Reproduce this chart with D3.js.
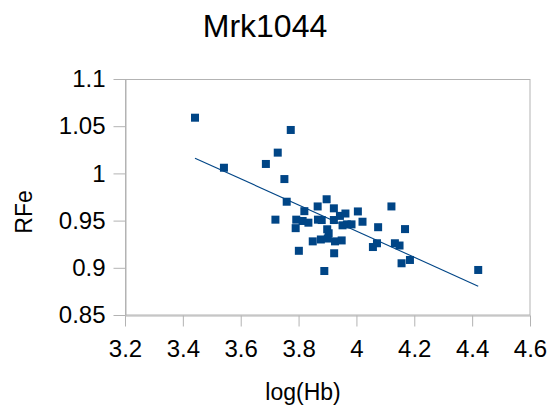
<!DOCTYPE html>
<html><head><meta charset="utf-8">
<script src="https://cdn.jsdelivr.net/npm/d3@7"></script>
<style>body{margin:0;background:#fff}svg{display:block}text{font-family:"Liberation Sans",Arial,sans-serif;fill:#000}</style>
</head><body><svg id="c" width="551" height="409"></svg>
<script>
const title = "Mrk1044";
const xLabel = "log(Hb)";
const yLabel = "RFe";
const xTicks = [3.2,3.4,3.6,3.8,4,4.2,4.4,4.6];
const yTicks = [0.85,0.9,0.95,1,1.05,1.1];
const logHb = [3.442,3.542,3.687,3.728,3.773,3.751,3.759,3.720,3.792,3.790,3.801,3.820,3.814,3.834,3.849,3.866,3.867,3.880,3.877,3.889,3.897,3.899,3.904,3.901,3.922,3.922,3.923,3.926,3.949,3.943,3.962,3.952,3.967,3.983,4.005,4.021,4.057,4.071,4.075,4.121,4.133,4.149,4.156,4.168,4.185,4.421];
const RFe =   [1.059,1.006,1.010,1.022,1.046,0.994,0.970,0.951,0.951,0.942,0.918,0.960,0.9496,0.9478,0.928,0.965,0.951,0.9506,0.930,0.8966,0.9726,0.9408,0.9366,0.931,0.963,0.9506,0.9154,0.928,0.929,0.955,0.9575,0.945,0.946,0.946,0.9597,0.9488,0.922,0.926,0.943,0.965,0.926,0.9236,0.9048,0.941,0.9083,0.8977];

const svg = d3.select("#c");
const x = d3.scaleLinear().domain([3.2,4.6]).range([125,530]);
const y = d3.scaleLinear().domain([0.85,1.1]).range([315,79]);
const col = "#004586";
const font = "Liberation Sans, Arial, sans-serif";

// frame
svg.append("rect").attr("x",125.5).attr("y",79.5).attr("width",404.5).attr("height",235.5)
  .attr("fill","none").attr("stroke","#b3b3b3");

const xa = svg.append("g").attr("transform","translate(0,315.5)")
  .call(d3.axisBottom(x).tickValues(xTicks).tickSize(11).tickSizeOuter(0).tickPadding(13).tickFormat(d=>String(d)));
const ya = svg.append("g").attr("transform","translate(125.5,0)")
  .call(d3.axisLeft(y).tickValues(yTicks).tickSize(12).tickSizeOuter(0).tickPadding(8).tickFormat(d=>String(d)));
[xa,ya].forEach(a=>{
  a.select(".domain").attr("stroke","#b3b3b3");
  a.selectAll(".tick line").attr("stroke","#b3b3b3");
  a.selectAll(".tick text").attr("font-size","24px").attr("fill","#000").style("font-family",font);
});

// regression line
const n = logHb.length;
const mx = d3.mean(logHb), my = d3.mean(RFe);
let sxy=0,sxx=0;
for(let i=0;i<n;i++){sxy+=(logHb[i]-mx)*(RFe[i]-my);sxx+=(logHb[i]-mx)**2;}
const b = sxy/sxx, a0 = my-b*mx;
const x0 = d3.min(logHb), x1 = d3.max(logHb);
svg.append("line").attr("x1",x(x0)).attr("y1",y(a0+b*x0)).attr("x2",x(x1)).attr("y2",y(a0+b*x1))
  .attr("stroke",col).attr("stroke-width",1.1);

// points
svg.append("g").selectAll("rect").data(logHb.map((v,i)=>[v,RFe[i]])).join("rect")
  .attr("x",d=>x(d[0])-4).attr("y",d=>y(d[1])-4).attr("width",8).attr("height",8).attr("fill",col);

svg.append("text").attr("x",265).attr("y",37).attr("text-anchor","middle").attr("font-size","32px").text(title);
svg.append("text").attr("x",303).attr("y",400).attr("text-anchor","middle").attr("font-size","23px").text(xLabel);
svg.append("text").attr("transform","translate(32,212) rotate(-90)").attr("text-anchor","middle").attr("font-size","23px").text(yLabel);
</script></body></html>
